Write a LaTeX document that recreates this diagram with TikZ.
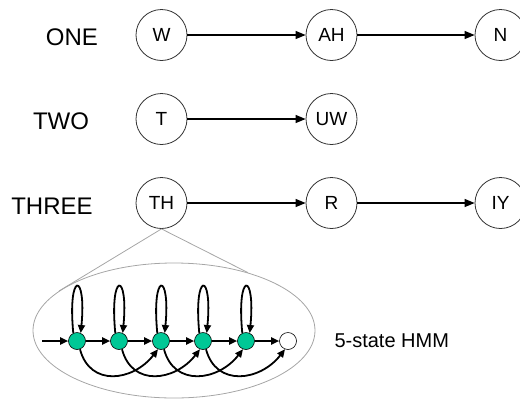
\documentclass[tikz,border=0pt]{standalone}
\usepackage{fontspec}
\setmainfont{Liberation Sans}
\usetikzlibrary{arrows.meta,shapes.geometric}
\definecolor{hmmgreen}{RGB}{0,200,150}
\begin{document}
\begin{tikzpicture}[x=1pt,y=-1pt,
  phone/.style={circle,draw=black!80,line width=0.8pt,minimum size=51pt,inner sep=0pt,font=\fontsize{19}{21}\selectfont},
  word/.style={font=\fontsize{24}{26}\selectfont},
  link/.style={line width=1.3pt,-{Triangle[length=10pt,width=8pt]}},
  st/.style={circle,draw=black,line width=0.6pt,fill=hmmgreen,minimum size=17pt,inner sep=0pt},
  fin/.style={st,fill=white},
  harc/.style={line width=1.8pt,-{Triangle[length=8pt,width=7pt]}},
  zoomline/.style={draw=black!35,line width=0.8pt}
]
\useasboundingbox (0,0) rectangle (520,400);
% zoom ellipse
\node[ellipse,zoomline,minimum width=282pt,minimum height=135pt,inner sep=0pt] (zoomell) at (174,330.5) {};
% words
\node[word] (one) at (72,37) {ONE};
\node[word] (two) at (61,121) {TWO};
\node[word] (three) at (52,206) {THREE};
% phones
\node[phone] (w) at (161.5,35) {W};
\node[phone] (ah) at (331.5,35) {AH};
\node[phone] (n) at (500.5,35) {N};
\node[phone] (t) at (161.5,119) {T};
\node[phone] (uw) at (331.5,119) {UW};
\node[phone] (th) at (161.5,203) {TH};
\node[phone] (r) at (331.5,203) {R};
\node[phone] (iy) at (500.5,203) {IY};
\draw[link] (w) -- (ah);
\draw[link] (ah) -- (n);
\draw[link] (t) -- (uw);
\draw[link] (th) -- (r);
\draw[link] (r) -- (iy);
% zoom lines
\draw[zoomline] (th.south) -- (zoomell.161);
\draw[zoomline] (th.south) -- (zoomell.38.5);
% HMM
\node[st] (s1) at (77,341) {};
\node[st] (s2) at (119,341) {};
\node[st] (s3) at (161,341) {};
\node[st] (s4) at (203,341) {};
\node[st] (s5) at (246,341) {};
\node[fin] (s6) at (288,341) {};
\coordinate (entry) at (42,341);
\node[anchor=west,font=\fontsize{20}{22}\selectfont] (lbl) at (331,341) {5-state HMM};
\draw[harc] (entry) -- (s1);
\foreach \a/\b in {s1/s2,s2/s3,s3/s4,s4/s5,s5/s6}{
  \draw[harc] (\a) -- (\b);
}
\foreach \a in {s1,s2,s3,s4,s5}{
  \draw[harc] (\a.115) .. controls +(-6,-62) and +(6,-62) .. (\a.65);
}
\foreach \a/\b in {s1/s3,s2/s4,s3/s5,s4/s6}{
  \draw[harc] (\a.-70) .. controls +(10,38) and +(-25,32) .. (\b.-110);
}
\end{tikzpicture}
\end{document}
